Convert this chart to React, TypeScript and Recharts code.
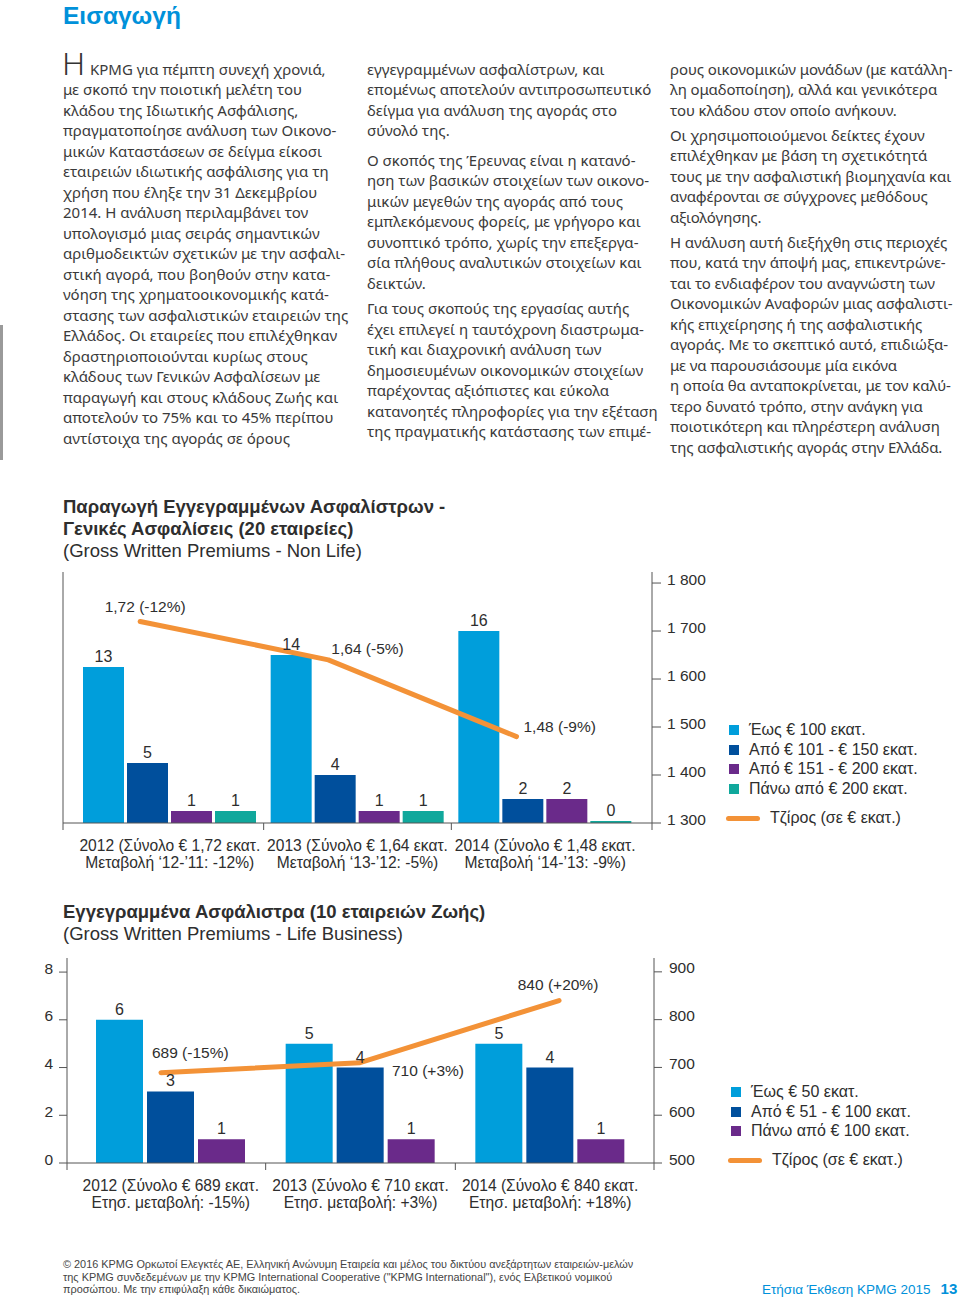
import React from 'react';
import { ComposedChart, Bar, Line, XAxis, YAxis, LabelList } from 'recharts';

// ---- Non-life chart data (20 companies) ----
const nlYears = ['2012', '2013', '2014'];
const nlUpTo100 = [13, 14, 16];
const nl101to150 = [5, 4, 2];
const nl151to200 = [1, 1, 2];
const nlOver200 = [1, 1, 0];
const nlTurnover = [1720, 1640, 1480];
const nlChange = [-12, -5, -9];
const nlCatTop = ['2012 (Σύνολο € 1,72 εκατ.', '2013 (Σύνολο € 1,64 εκατ.', '2014 (Σύνολο € 1,48 εκατ.'];
const nlCatBottom = ['Μεταβολή \u201812-\u201911: -12%)', 'Μεταβολή \u201813-\u201912: -5%)', 'Μεταβολή \u201814-\u201913: -9%)'];
const nlRightTicks = [1300, 1400, 1500, 1600, 1700, 1800];
const nlLegend = ['Έως € 100 εκατ.', 'Από € 101 - € 150 εκατ.', 'Από € 151 - € 200 εκατ.', 'Πάνω από € 200 εκατ.'];

// ---- Life chart data (10 companies) ----
const lifeYears = ['2012', '2013', '2014'];
const lifeUpTo50 = [6, 5, 5];
const life51to100 = [3, 4, 4];
const lifeOver100 = [1, 1, 1];
const lifeTurnover = [689, 710, 840];
const lifeChange = [-15, 3, 20];
const lifeCatTop = ['2012 (Σύνολο € 689 εκατ.', '2013 (Σύνολο € 710 εκατ.', '2014 (Σύνολο € 840 εκατ.'];
const lifeCatBottom = ['Ετησ. μεταβολή: -15%)', 'Ετησ. μεταβολή: +3%)', 'Ετησ. μεταβολή: +18%)'];
const lifeLeftTicks = [0, 2, 4, 6, 8];
const lifeRightTicks = [500, 600, 700, 800, 900];
const lifeLegend = ['Έως € 50 εκατ.', 'Από € 51 - € 100 εκατ.', 'Πάνω από € 100 εκατ.'];
const turnoverLegend = 'Τζίρος (σε € εκατ.)';

// ---- page text ----
const col1 = [
  'με σκοπό την ποιοτική μελέτη του',
  'κλάδου της Ιδιωτικής Ασφάλισης,',
  'πραγματοποίησε ανάλυση των Οικονο-',
  'μικών Καταστάσεων σε δείγμα είκοσι',
  'εταιρειών ιδιωτικής ασφάλισης για τη',
  'χρήση που έληξε την 31 Δεκεμβρίου',
  '2014. Η ανάλυση περιλαμβάνει τον',
  'υπολογισμό μιας σειράς σημαντικών',
  'αριθμοδεικτών σχετικών με την ασφαλι-',
  'στική αγορά, που βοηθούν στην κατα-',
  'νόηση της χρηματοοικονομικής κατά-',
  'στασης των ασφαλιστικών εταιρειών της',
  'Ελλάδος. Οι εταιρείες που επιλέχθηκαν',
  'δραστηριοποιούνται κυρίως στους',
  'κλάδους των Γενικών Ασφαλίσεων με',
  'παραγωγή και στους κλάδους Ζωής και',
  'αποτελούν το 75% και το 45% περίπου',
  'αντίστοιχα της αγοράς σε όρους',
];
const col2 = [
  ['εγγεγραμμένων ασφαλίστρων, και', 'επομένως αποτελούν αντιπροσωπευτικό', 'δείγμα για ανάλυση της αγοράς στο', 'σύνολό της.'],
  ['Ο σκοπός της Έρευνας είναι η κατανό-', 'ηση των βασικών στοιχείων των οικονο-', 'μικών μεγεθών της αγοράς από τους', 'εμπλεκόμενους φορείς, με γρήγορο και', 'συνοπτικό τρόπο, χωρίς την επεξεργα-', 'σία πλήθους αναλυτικών στοιχείων και', 'δεικτών.'],
  ['Για τους σκοπούς της εργασίας αυτής', 'έχει επιλεγεί η ταυτόχρονη διαστρωμα-', 'τική και διαχρονική ανάλυση των', 'δημοσιευμένων οικονομικών στοιχείων', 'παρέχοντας αξιόπιστες και εύκολα', 'κατανοητές πληροφορίες για την εξέταση', 'της πραγματικής κατάστασης των επιμέ-'],
];
const col3 = [
  ['ρους οικονομικών μονάδων (με κατάλλη-', 'λη ομαδοποίηση), αλλά και γενικότερα', 'του κλάδου στον οποίο ανήκουν.'],
  ['Οι χρησιμοποιούμενοι δείκτες έχουν', 'επιλέχθηκαν με βάση τη σχετικότητά', 'τους με την ασφαλιστική βιομηχανία και', 'αναφέρονται σε σύγχρονες μεθόδους', 'αξιολόγησης.'],
  ['Η ανάλυση αυτή διεξήχθη στις περιοχές', 'που, κατά την άποψή μας, επικεντρώνε-', 'ται το ενδιαφέρον του αναγνώστη των', 'Οικονομικών Αναφορών μιας ασφαλιστι-', 'κής επιχείρησης ή της ασφαλιστικής', 'αγοράς. Με το σκεπτικό αυτό, επιδιώξα-', 'με να παρουσιάσουμε μία εικόνα', 'η οποία θα ανταποκρίνεται, με τον καλύ-', 'τερο δυνατό τρόπο, στην ανάγκη για', 'ποιοτικότερη και πληρέστερη ανάλυση', 'της ασφαλιστικής αγοράς στην Ελλάδα.'],
];
const footer = [
  '© 2016 KPMG Ορκωτοί Ελεγκτές ΑΕ, Ελληνική Ανώνυμη Εταιρεία και μέλος του δικτύου ανεξάρτητων εταιρειών-μελών',
  'της KPMG συνδεδεμένων με την KPMG International Cooperative ("KPMG International"), ενός Ελβετικού νομικού',
  'προσώπου. Με την επιφύλαξη κάθε δικαιώματος.',
];

const C_LIGHT = '#009edb';
const C_DARK = '#004f9c';
const C_PURPLE = '#6a2a8a';
const C_TEAL = '#10a89c';
const C_ORANGE = '#f39237';
const C_TEXT = '#2e2e2e';
const C_AXIS = '#555';
const BLUE = '#0091da';

const SANS = '"Liberation Sans", Arial, sans-serif';
const BODY = '"Noto Sans", sans-serif';

const nlData = nlYears.map((year, i) => ({
  year, i,
  a: nlUpTo100[i], b: nl101to150[i], c: nl151to200[i], d: nlOver200[i],
  turnover: nlTurnover[i], change: nlChange[i],
}));
const lifeData = lifeYears.map((year, i) => ({
  year, i,
  a: lifeUpTo50[i], b: life51to100[i], c: lifeOver100[i],
  turnover: lifeTurnover[i], change: lifeChange[i],
}));

const pct = (c: number) => (c > 0 ? `+${c}%` : `${c}%`);
const nlLineLabelPos = [
  { dx: 5, dy: -15, anchor: 'middle' },
  { dx: 3, dy: -11, anchor: 'start' },
  { dx: 7, dy: -10, anchor: 'start' },
];
const lifeLineLabelPos = [
  { dx: -9, dy: -20, anchor: 'start' },
  { dx: 32, dy: 8, anchor: 'start' },
  { dx: -1, dy: -16, anchor: 'middle' },
];

const makeLineLabel = (pos: any[], fmt: (i: number) => string) => (props: any) => {
  const { x, y, index } = props;
  const p = pos[index];
  return (
    <text x={x + p.dx} y={y + p.dy} textAnchor={p.anchor} dominantBaseline="central"
      fontFamily={SANS} fontSize={15.5} fill={C_TEXT}>
      {fmt(index)}
    </text>
  );
};

const makeCatTick = (top: string[], bottom: string[], band: number, padL: number, padR: number) => (props: any) => {
  const { x, y, payload, index } = props;
  const i = payload && typeof payload.index === 'number' ? payload.index : index;
  const marks: number[] = [x - band / 2];
  if (i === 0) marks[0] = x - band / 2 - padL;
  if (i === top.length - 1) marks.push(x + band / 2 + padR);
  return (
    <g>
      {marks.map((mx, k) => (
        <line key={k} x1={mx} x2={mx} y1={y} y2={y + 7} stroke={C_AXIS} strokeWidth={1} />
      ))}
      <text x={x} y={y + 22} textAnchor="middle" dominantBaseline="central" fontFamily={SANS} fontSize={15.6} fill={C_TEXT}>
        {top[i]}
      </text>
      <text x={x} y={y + 39} textAnchor="middle" dominantBaseline="central" fontFamily={SANS} fontSize={15.6} fill={C_TEXT}>
        {bottom[i]}
      </text>
    </g>
  );
};

const fmtThousands = (v: number) => String(v).replace(/\B(?=(\d{3})+(?!\d))/g, ' ');

const RightTick = (props: any) => {
  const { x, y, payload } = props;
  return (
    <text x={x} y={y - 4} textAnchor="start" dominantBaseline="central" fontFamily={SANS} fontSize={15.5} fill={C_TEXT}>
      {fmtThousands(payload.value)}
    </text>
  );
};
const LeftTick = (props: any) => {
  const { x, y, payload } = props;
  return (
    <text x={x} y={y - 4} textAnchor="end" dominantBaseline="central" fontFamily={SANS} fontSize={15.5} fill={C_TEXT}>
      {payload.value}
    </text>
  );
};

const barLabelStyle = { fontFamily: SANS, fontSize: 16, fill: C_TEXT };

function LegendBox({ left, top, items, colors, lineTop }: any) {
  return (
    <div style={{ position: 'absolute', left, top, fontFamily: SANS, fontSize: 16, color: C_TEXT }}>
      {items.map((t: string, k: number) => (
        <div key={k} style={{ position: 'absolute', left: 0, top: k * 19.7, height: 20, whiteSpace: 'nowrap', display: 'flex', alignItems: 'center' }}>
          <span style={{ width: 10, height: 10, background: colors[k], display: 'inline-block', marginRight: 10 }} />
          <span>{t}</span>
        </div>
      ))}
      <div style={{ position: 'absolute', left: -3, top: lineTop, height: 20, whiteSpace: 'nowrap', display: 'flex', alignItems: 'center' }}>
        <span style={{ width: 34, height: 5, borderRadius: 3, background: C_ORANGE, display: 'inline-block', marginRight: 10 }} />
        <span>{turnoverLegend}</span>
      </div>
    </div>
  );
}

function Para({ lines, mb }: { lines: string[]; mb?: number }) {
  return (
    <div style={{ marginBottom: mb ?? 6 }}>
      {lines.map((l, k) => (
        <div key={k} style={{ whiteSpace: 'nowrap' }}>{l}</div>
      ))}
    </div>
  );
}

const NL_BAND = (589 - 26) / 3;
const LIFE_BAND = (587 - 18) / 3;

export default function App() {
  const bodyStyle: React.CSSProperties = {
    position: 'absolute', fontFamily: BODY, fontSize: 15, lineHeight: '20.5px', color: '#3a3a3a',
  };
  return (
    <div style={{ position: 'absolute', left: 0, top: 0, width: 960, height: 1298, background: '#fff', overflow: 'hidden' }}>
      <div style={{ position: 'absolute', left: 63, top: 1, fontFamily: SANS, fontWeight: 700, fontSize: 24.5, color: BLUE, lineHeight: '30px' }}>
        Εισαγωγή
      </div>
      <div style={{ position: 'absolute', left: 0, top: 325, width: 3, height: 135, background: '#9a9a9a' }} />

      {/* column 1 */}
      <div style={{ position: 'absolute', left: 62, top: 52, fontFamily: BODY, fontSize: 32, fontWeight: 300, lineHeight: '22px', color: '#333' }}>Η</div>
      <div style={{ ...bodyStyle, left: 63, top: 58.5 }}>
        <div style={{ whiteSpace: 'nowrap', paddingLeft: 27 }}>KPMG για πέμπτη συνεχή χρονιά,</div>
        {col1.map((l, k) => (
          <div key={k} style={{ whiteSpace: 'nowrap' }}>{l}</div>
        ))}
      </div>

      {/* column 2 */}
      <div style={{ ...bodyStyle, left: 367, top: 58.5 }}>
        <Para lines={col2[0]} mb={9} />
        <Para lines={col2[1]} mb={5} />
        <Para lines={col2[2]} />
      </div>

      {/* column 3 */}
      <div style={{ ...bodyStyle, left: 670, top: 58.5, letterSpacing: '-0.1px' }}>
        <Para lines={col3[0]} mb={4.5} />
        <Para lines={col3[1]} mb={4.5} />
        <Para lines={col3[2]} />
      </div>

      {/* chart 1 titles */}
      <div style={{ position: 'absolute', left: 63, top: 496, fontFamily: SANS, fontSize: 18.5, lineHeight: '22px', color: C_TEXT }}>
        <div style={{ fontWeight: 700 }}>Παραγωγή Εγγεγραμμένων Ασφαλίστρων -</div>
        <div style={{ fontWeight: 700 }}>Γενικές Ασφαλίσεις (20 εταιρείες)</div>
        <div>(Gross Written Premiums - Non Life)</div>
      </div>

      <div style={{ position: 'absolute', left: 0, top: 560 }}>
        <ComposedChart width={960} height={320} data={nlData}
          margin={{ top: 12, right: 248, bottom: 0, left: 62 }} barCategoryGap={7} barGap={3}>
          <XAxis xAxisId="cat" dataKey="year" height={57} padding={{ left: 13, right: 13 }}
            axisLine={{ stroke: C_AXIS }} tickLine={false} tickSize={0} tickMargin={0} interval={0}
            tick={makeCatTick(nlCatTop, nlCatBottom, NL_BAND, 13, 13)} />
          <XAxis xAxisId="num" type="number" dataKey="i" domain={[-0.41, 2.72]} allowDataOverflow hide />
          <YAxis yAxisId="cnt" width={1} domain={[0, 20.92]} allowDataOverflow tick={false} tickLine={false}
            axisLine={{ stroke: C_AXIS }} />
          <YAxis yAxisId="tz" orientation="right" width={60} domain={[1300, 1823]} allowDataOverflow
            ticks={nlRightTicks} interval={0} tickSize={9} tickMargin={6}
            axisLine={{ stroke: C_AXIS }} tickLine={{ stroke: C_AXIS }} tick={<RightTick />} />
          <Bar xAxisId="cat" yAxisId="cnt" dataKey="a" fill={C_LIGHT} isAnimationActive={false}>
            <LabelList dataKey="a" position="top" offset={5} style={barLabelStyle} />
          </Bar>
          <Bar xAxisId="cat" yAxisId="cnt" dataKey="b" fill={C_DARK} isAnimationActive={false}>
            <LabelList dataKey="b" position="top" offset={5} style={barLabelStyle} />
          </Bar>
          <Bar xAxisId="cat" yAxisId="cnt" dataKey="c" fill={C_PURPLE} isAnimationActive={false}>
            <LabelList dataKey="c" position="top" offset={5} style={barLabelStyle} />
          </Bar>
          <Bar xAxisId="cat" yAxisId="cnt" dataKey="d" fill={C_TEAL} minPointSize={2} isAnimationActive={false}>
            <LabelList dataKey="d" position="top" offset={5} style={barLabelStyle} />
          </Bar>
          <Line xAxisId="num" yAxisId="tz" dataKey="turnover" type="linear" stroke={C_ORANGE} strokeWidth={5}
            strokeLinecap="round" strokeLinejoin="round" dot={false} activeDot={false} isAnimationActive={false}>
            <LabelList dataKey="turnover" content={makeLineLabel(nlLineLabelPos,
              (i) => `${(nlTurnover[i] / 1000).toFixed(2).replace('.', ',')} (${pct(nlChange[i])})`)} />
          </Line>
        </ComposedChart>
      </div>
      <LegendBox left={729} top={720} items={nlLegend} colors={[C_LIGHT, C_DARK, C_PURPLE, C_TEAL]} lineTop={88} />

      {/* chart 2 titles */}
      <div style={{ position: 'absolute', left: 63, top: 901, fontFamily: SANS, fontSize: 18.5, lineHeight: '22px', color: C_TEXT }}>
        <div style={{ fontWeight: 700 }}>Εγγεγραμμένα Ασφάλιστρα (10 εταιρειών Ζωής)</div>
        <div>(Gross Written Premiums - Life Business)</div>
      </div>

      <div style={{ position: 'absolute', left: 0, top: 940 }}>
        <ComposedChart width={960} height={280} data={lifeData}
          margin={{ top: 18, right: 246, bottom: 0, left: 27 }} barCategoryGap={20} barGap={4}>
          <XAxis xAxisId="cat" dataKey="year" height={57} padding={{ left: 9, right: 9 }}
            axisLine={{ stroke: C_AXIS }} tickLine={false} tickSize={0} tickMargin={0} interval={0}
            tick={makeCatTick(lifeCatTop, lifeCatBottom, LIFE_BAND, 9, 9)} />
          <XAxis xAxisId="num" type="number" dataKey="i" domain={[-0.472, 2.477]} allowDataOverflow hide />
          <YAxis yAxisId="cnt" width={40} domain={[0, 8.59]} allowDataOverflow ticks={lifeLeftTicks} interval={0}
            tickSize={8} tickMargin={6} axisLine={{ stroke: C_AXIS }} tickLine={{ stroke: C_AXIS }} tick={<LeftTick />} />
          <YAxis yAxisId="tz" orientation="right" width={60} domain={[500, 929]} allowDataOverflow
            ticks={lifeRightTicks} interval={0} tickSize={8} tickMargin={7}
            axisLine={{ stroke: C_AXIS }} tickLine={{ stroke: C_AXIS }} tick={<RightTick />} />
          <Bar xAxisId="cat" yAxisId="cnt" dataKey="a" fill={C_LIGHT} isAnimationActive={false}>
            <LabelList dataKey="a" position="top" offset={5} style={barLabelStyle} />
          </Bar>
          <Bar xAxisId="cat" yAxisId="cnt" dataKey="b" fill={C_DARK} isAnimationActive={false}>
            <LabelList dataKey="b" position="top" offset={5} style={barLabelStyle} />
          </Bar>
          <Bar xAxisId="cat" yAxisId="cnt" dataKey="c" fill={C_PURPLE} isAnimationActive={false}>
            <LabelList dataKey="c" position="top" offset={5} style={barLabelStyle} />
          </Bar>
          <Line xAxisId="num" yAxisId="tz" dataKey="turnover" type="linear" stroke={C_ORANGE} strokeWidth={5}
            strokeLinecap="round" strokeLinejoin="round" dot={false} activeDot={false} isAnimationActive={false}>
            <LabelList dataKey="turnover" content={makeLineLabel(lifeLineLabelPos,
              (i) => `${lifeTurnover[i]} (${pct(lifeChange[i])})`)} />
          </Line>
        </ComposedChart>
      </div>
      <LegendBox left={731} top={1082} items={lifeLegend} colors={[C_LIGHT, C_DARK, C_PURPLE]} lineTop={68} />

      {/* footer */}
      <div style={{ position: 'absolute', left: 63, top: 1258, fontFamily: SANS, fontSize: 10.9, lineHeight: '12.6px', color: '#444' }}>
        {footer.map((l, k) => (
          <div key={k} style={{ whiteSpace: 'nowrap' }}>{l}</div>
        ))}
      </div>
      <div style={{ position: 'absolute', left: 762, top: 1279, fontFamily: SANS, fontSize: 13.5, lineHeight: '20px', color: BLUE, whiteSpace: 'nowrap' }}>
        Ετήσια Έκθεση KPMG 2015
        <span style={{ fontWeight: 700, fontSize: 15, marginLeft: 10 }}>13</span>
      </div>
    </div>
  );
}
